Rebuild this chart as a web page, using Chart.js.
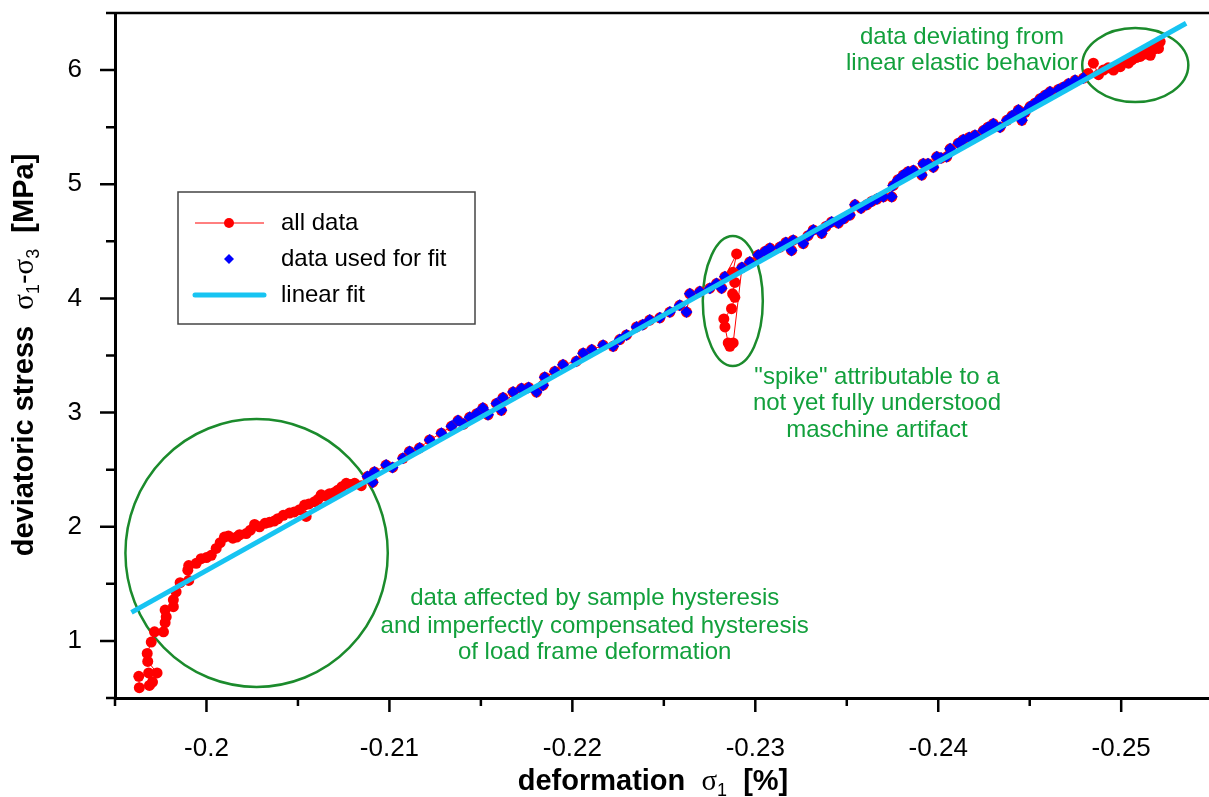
<!DOCTYPE html>
<html>
<head>
<meta charset="utf-8">
<script src="https://cdn.jsdelivr.net/npm/chart.js@4.4.0/dist/chart.umd.min.js"></script>
<style>
  html, body { margin: 0; padding: 0; background: #fff; }
  canvas { display: block; }
</style>
</head>
<body>
<canvas id="chart" width="1209" height="797"></canvas>
<script>
// deformation [%] (x) vs deviatoric stress [MPa] (y)

// start of loading, hysteresis part (red only)
const lowX = [-0.19633, -0.19630, -0.19684, -0.19688, -0.19705, -0.19730, -0.19679, -0.19676, -0.19698, -0.19716,
  -0.19765, -0.19774, -0.19780, -0.19774, -0.19819, -0.19819, -0.19834, -0.19856, -0.19903, -0.19898,
  -0.19903, -0.19944, -0.19971, -0.20000, -0.20026, -0.20053, -0.20075, -0.20098, -0.20120, -0.20144,
  -0.20165, -0.20181, -0.20217, -0.20240, -0.20263, -0.20290, -0.20320, -0.20345, -0.20370, -0.20390,
  -0.20420, -0.20454, -0.20480, -0.20509, -0.20545, -0.20536, -0.20560, -0.20591, -0.20610, -0.20627,
  -0.20650, -0.20673, -0.20700, -0.20718, -0.20740, -0.20764, -0.20790, -0.20810, -0.20846];
const lowY = [0.59, 0.69, 0.72, 0.61, 0.64, 0.72, 0.82, 0.89, 0.99, 1.08,
  1.08, 1.16, 1.21, 1.27, 1.30, 1.36, 1.43, 1.51, 1.53, 1.62,
  1.66, 1.68, 1.72, 1.73, 1.75, 1.81, 1.86, 1.91, 1.92, 1.90,
  1.91, 1.93, 1.94, 1.97, 2.02, 2.00, 2.03, 2.04, 2.05, 2.07,
  2.10, 2.12, 2.13, 2.15, 2.09, 2.19, 2.20, 2.22, 2.24, 2.28,
  2.27, 2.29, 2.30, 2.32, 2.35, 2.38, 2.37, 2.38, 2.36];

// data used for the fit, before the spike
const fitAX = [-0.20880, -0.20909, -0.20918, -0.20982, -0.21017, -0.21074, -0.21110, -0.21165, -0.21220, -0.21284,
  -0.21339, -0.21375, -0.21406, -0.21439, -0.21477, -0.21511, -0.21539, -0.21585, -0.21621, -0.21612,
  -0.21676, -0.21722, -0.21761, -0.21804, -0.21840, -0.21849, -0.21904, -0.21949, -0.22022, -0.22059,
  -0.22106, -0.22168, -0.22223, -0.22259, -0.22296, -0.22351, -0.22385, -0.22423, -0.22478, -0.22533,
  -0.22587, -0.22624, -0.22642, -0.22697, -0.22752, -0.22788, -0.22816, -0.22834];
const fitAY = [2.44, 2.39, 2.48, 2.54, 2.52, 2.60, 2.66, 2.69, 2.76, 2.82,
  2.88, 2.93, 2.90, 2.96, 2.99, 3.04, 2.98, 3.08, 3.13, 3.02,
  3.18, 3.21, 3.22, 3.18, 3.24, 3.31, 3.36, 3.42, 3.45, 3.52,
  3.55, 3.59, 3.58, 3.64, 3.68, 3.75, 3.77, 3.81, 3.83, 3.88,
  3.94, 3.88, 4.04, 4.06, 4.09, 4.13, 4.09, 4.19];

// machine artifact
const spikeX = [-0.22898, -0.22877, -0.22888, -0.22876, -0.22888, -0.22870, -0.22828, -0.22834, -0.22852, -0.22861, -0.22879];
const spikeY = [4.39, 4.23, 4.14, 4.04, 4.01, 3.91, 3.82, 3.75, 3.61, 3.58, 3.61];

// data used for the fit, after the spike
const fitBX = [-0.22927, -0.22970, -0.23016, -0.23052, -0.23080, -0.23135, -0.23167, -0.23198, -0.23207, -0.23262,
  -0.23288, -0.23317, -0.23363, -0.23386, -0.23417, -0.23454, -0.23485, -0.23517, -0.23545, -0.23578,
  -0.23609, -0.23636, -0.23665, -0.23700, -0.23746, -0.23754, -0.23780, -0.23809, -0.23835, -0.23864,
  -0.23910, -0.23918, -0.23944, -0.23973, -0.23992, -0.24015, -0.24046, -0.24065, -0.24110, -0.24137,
  -0.24169, -0.24201, -0.24247, -0.24272, -0.24301, -0.24338, -0.24375, -0.24404, -0.24438, -0.24457,
  -0.24475, -0.24502, -0.24529, -0.24557, -0.24584, -0.24611, -0.24657, -0.24683, -0.24712, -0.24748,
  -0.24794];
const fitBY = [4.27, 4.32, 4.38, 4.41, 4.44, 4.45, 4.49, 4.42, 4.51, 4.48,
  4.55, 4.60, 4.57, 4.63, 4.67, 4.66, 4.70, 4.73, 4.82, 4.79,
  4.82, 4.85, 4.87, 4.89, 4.89, 4.99, 5.04, 5.08, 5.11, 5.12,
  5.08, 5.18, 5.18, 5.15, 5.24, 5.23, 5.24, 5.31, 5.36, 5.39,
  5.41, 5.43, 5.47, 5.50, 5.53, 5.50, 5.56, 5.60, 5.65, 5.56,
  5.63, 5.68, 5.71, 5.75, 5.78, 5.81, 5.83, 5.85, 5.88, 5.91,
  5.93];

// end of loading, deviating from linear elastic behaviour (red only)
const highX = [-0.24820, -0.24848, -0.24876, -0.24903, -0.24929, -0.24958, -0.24980, -0.24995, -0.25022, -0.25040,
  -0.25059, -0.25082, -0.25104, -0.25125, -0.25141, -0.25159, -0.25175, -0.25195, -0.25204, -0.25213];
const highY = [5.97, 6.06, 5.96, 6.00, 6.02, 6.00, 6.04, 6.03, 6.07, 6.06,
  6.09, 6.11, 6.12, 6.14, 6.16, 6.13, 6.18, 6.20, 6.19, 6.25];

// linear fit end points
const lineX = [-0.1959, -0.25355];
const lineY = [1.25, 6.41];

// axis ticks
const xTickValues = [-0.195, -0.2, -0.205, -0.21, -0.215, -0.22, -0.225, -0.23, -0.235, -0.24, -0.245, -0.25];
const yTickValues = [0.5, 1, 1.5, 2, 2.5, 3, 3.5, 4, 4.5, 5, 5.5, 6, 6.5];

// annotations (centre x, centre y, radius x, radius y) in data units
const ellipses = [
  [-0.20274, 1.77, 0.00717, 1.173],
  [-0.22877, 3.977, 0.00164, 0.569],
  [-0.25077, 6.044, 0.0029, 0.324]
];
const notes = [
  { x: -0.22122, y: [1.37, 1.13, 0.90], text: ['data affected by sample hysteresis', 'and imperfectly compensated hysteresis', 'of load frame deformation'] },
  { x: -0.23665, y: [3.31, 3.08, 2.84], text: ['"spike" attributable to a', 'not yet fully understood', 'maschine artifact'] },
  { x: -0.24130, y: [6.29, 6.06], text: ['data deviating from', 'linear elastic behavior'] }
];

const SANS = '"Liberation Sans", Arial, sans-serif';
const SERIF = '"Liberation Serif", "Times New Roman", serif';
const GREEN_TEXT = '#12a03c';
const GREEN_LINE = '#1b8b2c';
const CYAN = '#17c4f2';

const pts = (xs, ys) => xs.map((v, i) => ({ x: v, y: ys[i] }));
const allData = [...pts(lowX, lowY), ...pts(fitAX, fitAY), ...pts(spikeX, spikeY), ...pts(fitBX, fitBY), ...pts(highX, highY)];
const fitData = [...pts(fitAX, fitAY), ...pts(fitBX, fitBY)];
const lineData = pts(lineX, lineY);

const isMajorX = v => Math.abs(v * 100 - Math.round(v * 100)) < 1e-6;
const isMajorY = v => Math.abs(v - Math.round(v)) < 1e-6;

// draws a run of text pieces (different fonts / offsets) centred on x
function drawPieces(ctx, pieces, x, y) {
    let total = 0;
    pieces.forEach(p => { ctx.font = p.font; p.w = ctx.measureText(p.t).width; total += p.w; });
    let cx = x - total / 2;
    pieces.forEach(p => {
        ctx.font = p.font;
        ctx.fillText(p.t, cx, y + (p.dy || 0));
        cx += p.w;
    });
}

const overlay = {
    id: 'overlay',
    beforeDatasetsDraw(chart) {
        const { ctx, scales: { x, y } } = chart;
        ctx.save();
        ctx.strokeStyle = GREEN_LINE;
        ctx.lineWidth = 2.5;
        ellipses.forEach(e => {
            const cx = x.getPixelForValue(e[0]);
            const cy = y.getPixelForValue(e[1]);
            const rx = Math.abs(x.getPixelForValue(e[0] + e[2]) - cx);
            const ry = Math.abs(y.getPixelForValue(e[1] + e[3]) - cy);
            ctx.beginPath();
            ctx.ellipse(cx, cy, rx, ry, 0, 0, Math.PI * 2);
            ctx.stroke();
        });
        ctx.restore();
    },
    afterDraw(chart) {
        const { ctx, chartArea, scales: { x, y } } = chart;
        ctx.save();

        // tick marks and top frame line
        ctx.strokeStyle = '#000';
        ctx.lineWidth = 2.5;
        ctx.beginPath();
        x.ticks.forEach(t => {
            const px = x.getPixelForValue(t.value);
            ctx.moveTo(px, chartArea.bottom);
            ctx.lineTo(px, chartArea.bottom + (isMajorX(t.value) ? 14 : 8));
        });
        y.ticks.forEach(t => {
            const py = y.getPixelForValue(t.value);
            ctx.moveTo(chartArea.left - (isMajorY(t.value) ? 15 : 9), py);
            ctx.lineTo(chartArea.left, py);
        });
        ctx.moveTo(chartArea.left, chartArea.top);
        ctx.lineTo(chartArea.right, chartArea.top);
        ctx.stroke();

        // green annotation texts
        ctx.fillStyle = GREEN_TEXT;
        ctx.font = '24px ' + SANS;
        ctx.textAlign = 'center';
        ctx.textBaseline = 'middle';
        notes.forEach(n => {
            n.text.forEach((line, i) => {
                ctx.fillText(line, x.getPixelForValue(n.x), y.getPixelForValue(n.y[i]));
            });
        });

        // legend
        const bx = 178, by = 192, bw = 297, bh = 132;
        ctx.fillStyle = '#fff';
        ctx.fillRect(bx, by, bw, bh);
        ctx.strokeStyle = '#444';
        ctx.lineWidth = 1.5;
        ctx.strokeRect(bx, by, bw, bh);
        const rows = [223, 259, 295];
        // all data
        ctx.strokeStyle = '#ff0000';
        ctx.lineWidth = 1;
        ctx.beginPath();
        ctx.moveTo(195, rows[0]); ctx.lineTo(264, rows[0]);
        ctx.stroke();
        ctx.fillStyle = '#ff0000';
        ctx.beginPath();
        ctx.arc(229, rows[0], 5, 0, Math.PI * 2);
        ctx.fill();
        // data used for fit
        ctx.fillStyle = '#0000ff';
        ctx.beginPath();
        ctx.moveTo(229, rows[1] - 5); ctx.lineTo(234, rows[1]); ctx.lineTo(229, rows[1] + 5); ctx.lineTo(224, rows[1]);
        ctx.closePath();
        ctx.fill();
        // linear fit
        ctx.strokeStyle = CYAN;
        ctx.lineWidth = 5;
        ctx.lineCap = 'round';
        ctx.beginPath();
        ctx.moveTo(195, rows[2]); ctx.lineTo(264, rows[2]);
        ctx.stroke();
        ctx.fillStyle = '#000';
        ctx.font = '24px ' + SANS;
        ctx.textAlign = 'left';
        ctx.fillText('all data', 281, rows[0]);
        ctx.fillText('data used for fit', 281, rows[1]);
        ctx.fillText('linear fit', 281, rows[2]);

        // axis titles
        const bold = 'bold 29px ' + SANS;
        const sig = '29px ' + SERIF;
        const sub = '18px ' + SANS;
        ctx.textAlign = 'left';
        ctx.textBaseline = 'alphabetic';
        drawPieces(ctx, [
            { t: 'deformation  ', font: bold },
            { t: 'σ', font: sig },
            { t: '1', font: sub, dy: 6 },
            { t: '  [%]', font: bold }
        ], 653, 790);

        ctx.translate(33, 355);
        ctx.rotate(-Math.PI / 2);
        drawPieces(ctx, [
            { t: 'deviatoric stress  ', font: bold },
            { t: 'σ', font: sig },
            { t: '1', font: sub, dy: 6 },
            { t: '-', font: '29px ' + SANS },
            { t: 'σ', font: sig },
            { t: '3', font: sub, dy: 6 },
            { t: '  [MPa]', font: bold }
        ], 0, 0);

        ctx.restore();
    }
};

Chart.defaults.font.family = SANS;
Chart.defaults.color = '#000';

new Chart(document.getElementById('chart'), {
    type: 'scatter',
    data: {
        datasets: [{
            label: 'linear fit',
            data: lineData,
            showLine: true,
            borderColor: CYAN,
            borderWidth: 5,
            pointRadius: 0
        }, {
            label: 'data used for fit',
            data: fitData,
            pointStyle: 'rectRot',
            pointRadius: 6,
            pointBackgroundColor: '#0000ff',
            pointBorderColor: '#0000ff',
            pointBorderWidth: 0
        }, {
            label: 'all data',
            data: allData,
            showLine: true,
            borderColor: '#ff0000',
            borderWidth: 1,
            pointRadius: 5.5,
            pointBackgroundColor: '#ff0000',
            pointBorderColor: '#ff0000',
            pointBorderWidth: 0
        }]
    },
    options: {
        responsive: false,
        animation: false,
        layout: { autoPadding: false, padding: { top: 13, left: 0, right: 0, bottom: 0 } },
        plugins: {
            legend: { display: false },
            tooltip: { enabled: false }
        },
        scales: {
            x: {
                type: 'linear',
                reverse: true,
                min: -0.2548,
                max: -0.195,
                afterBuildTicks: s => { s.ticks = xTickValues.map(v => ({ value: v })); },
                afterFit: s => { s.height = 99; s.paddingLeft = 0; s.paddingRight = 0; },
                grid: { display: true, drawOnChartArea: false, color: 'rgba(0,0,0,0)', tickLength: 14 },
                border: { display: true, color: '#000', width: 3 },
                ticks: {
                    autoSkip: false,
                    maxRotation: 0,
                    padding: 21,
                    font: { size: 26 },
                    callback: v => isMajorX(v) ? String(Number(v.toFixed(2))) : ''
                }
            },
            y: {
                type: 'linear',
                min: 0.5,
                max: 6.5,
                afterBuildTicks: s => { s.ticks = yTickValues.map(v => ({ value: v })); },
                afterFit: s => { s.width = 115; s.paddingTop = 0; s.paddingBottom = 0; },
                grid: { display: true, drawOnChartArea: false, color: 'rgba(0,0,0,0)', tickLength: 15 },
                border: { display: true, color: '#000', width: 3 },
                ticks: {
                    autoSkip: false,
                    padding: 18,
                    font: { size: 26 },
                    callback: v => isMajorY(v) ? String(v) : ''
                }
            }
        }
    },
    plugins: [overlay]
});
</script>
</body>
</html>
